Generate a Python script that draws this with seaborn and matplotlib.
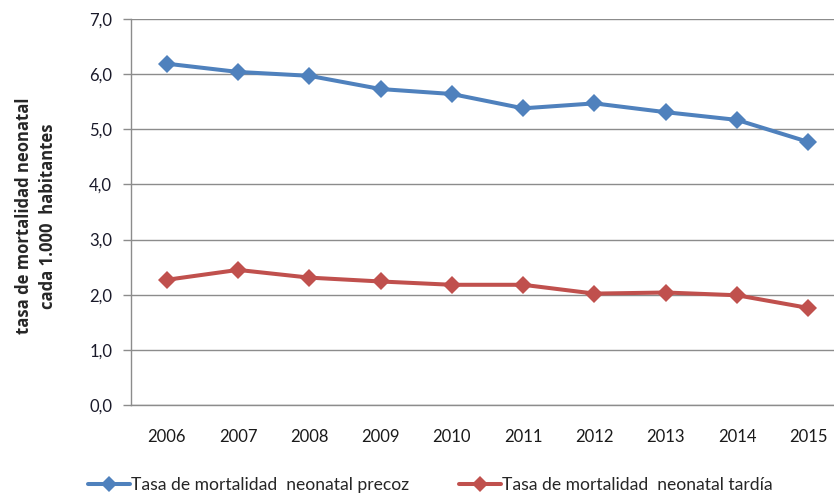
import matplotlib
matplotlib.use("Agg")
import matplotlib.pyplot as plt
from matplotlib.ticker import FixedLocator, FuncFormatter
import seaborn as sns
import pandas as pd

years = ["2006", "2007", "2008", "2009", "2010", "2011", "2012", "2013", "2014", "2015"]
precoz = [6.19, 6.04, 5.97, 5.73, 5.64, 5.38, 5.47, 5.31, 5.17, 4.77]
tardia = [2.27, 2.45, 2.31, 2.24, 2.18, 2.18, 2.02, 2.04, 1.99, 1.76]
series_names = ["Tasa de mortalidad  neonatal precoz", "Tasa de mortalidad  neonatal tardía"]
colors = ["#4F81BD", "#C0504D"]

df = pd.DataFrame({
    "pos": list(range(len(years))) * 2,
    "valor": precoz + tardia,
    "serie": [series_names[0]] * len(years) + [series_names[1]] * len(years),
})

sns.set_style("white")
plt.rcParams["font.family"] = ["Lato", "DejaVu Sans"]

fig = plt.figure(figsize=(8.34, 4.93), dpi=100)
ax = fig.add_axes([131 / 834, 88 / 493, 713 / 834, 386 / 493])

sns.lineplot(data=df, x="pos", y="valor", hue="serie", palette=colors,
             marker="D", markersize=9.5, markeredgewidth=0, linewidth=2.9,
             ax=ax, legend=False)

ax.set_ylim(0, 7)
ax.set_xlim(-0.5, len(years) - 0.5)
ax.set_yticks([i for i in range(8)])
ax.yaxis.set_major_formatter(FuncFormatter(lambda v, p: f"{v:.1f}".replace(".", ",")))
ax.set_xticks(range(len(years)))
ax.set_xticklabels(years)
ax.xaxis.set_minor_locator(FixedLocator([i - 0.5 for i in range(len(years) + 1)]))
ax.tick_params(axis="x", which="major", length=0, pad=17, labelsize=12, colors="#1a1a1a")
ax.tick_params(axis="x", which="minor", length=5, width=1, color="#8c8c8c", direction="out")
ax.tick_params(axis="y", which="major", length=6, width=1, color="#8c8c8c", pad=7.5,
               labelsize=12, labelcolor="#1a1a2a", left=True)

ax.grid(axis="y", color="#8c8c8c", linewidth=1)
ax.set_axisbelow(True)
for s in ["top", "right"]:
    ax.spines[s].set_visible(False)
for s in ["left", "bottom"]:
    ax.spines[s].set_color("#8c8c8c")
    ax.spines[s].set_linewidth(1)

ax.set_xlabel("")
ax.set_ylabel("tasa de mortalidad neonatal\ncada 1.000  habitantes", fontsize=12,
              fontweight="bold", family=["Open Sans", "DejaVu Sans"], linespacing=1.45)
ax.yaxis.set_label_coords(-0.104, 0.49)

handles = [plt.Line2D([], [], color=c, marker="D", markersize=8.5, markeredgewidth=0, linewidth=2.9)
           for c in colors]
fig.legend(handles, series_names, loc="center left", bbox_to_anchor=(88 / 834, 8 / 493),
           ncol=2, frameon=False, fontsize=12.6, handlelength=2.4, handletextpad=0.05,
           columnspacing=2.85, borderaxespad=0, borderpad=0)

fig.savefig("out.png", dpi=100)
